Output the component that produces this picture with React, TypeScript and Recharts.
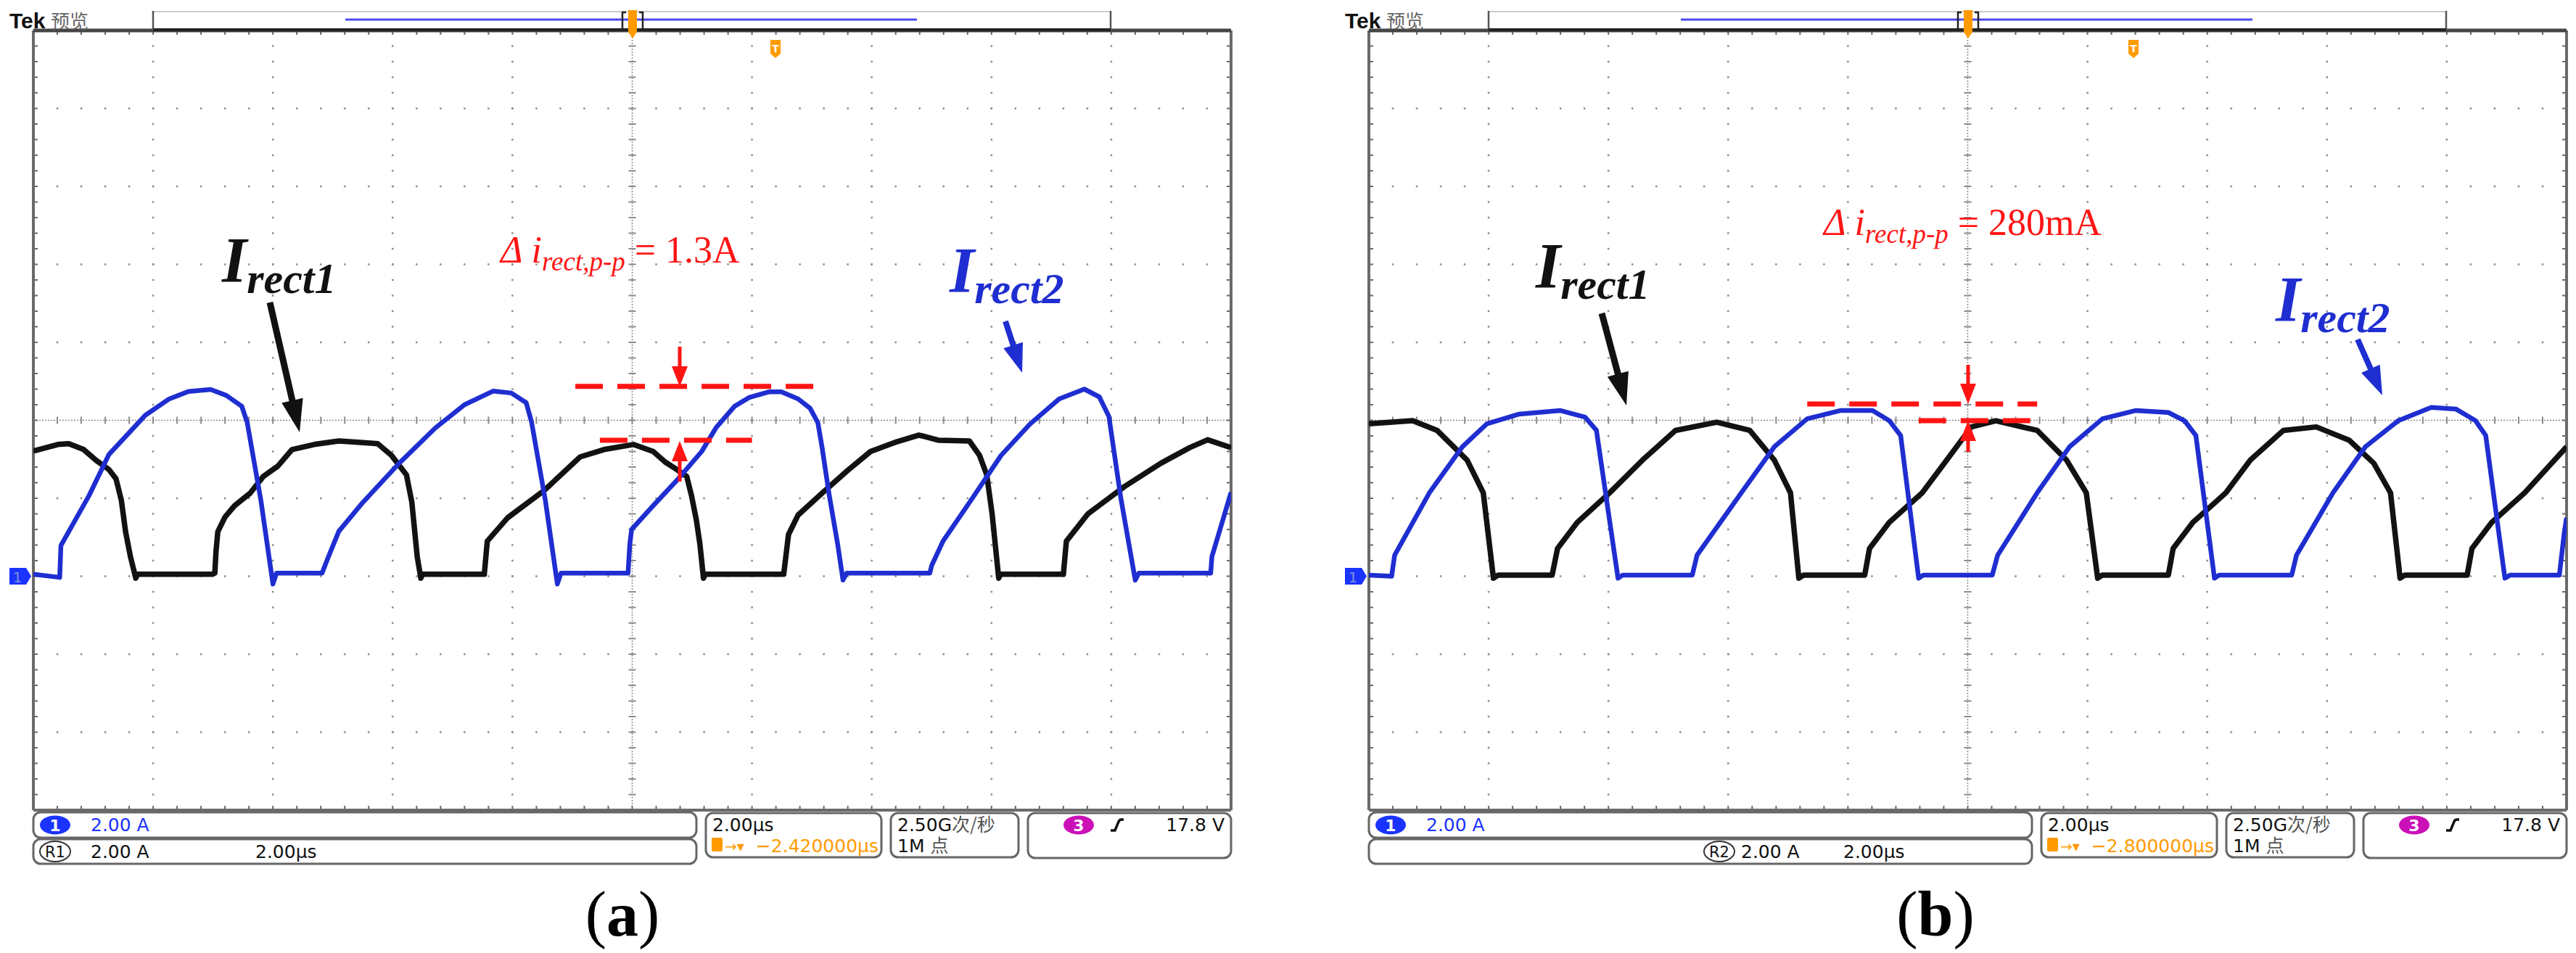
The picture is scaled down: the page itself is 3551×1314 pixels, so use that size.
import React from 'react';
import { LineChart, Line, XAxis, YAxis, ReferenceLine } from 'recharts';

// ---- screen geometry (px of the 3551x1314 page) ----
const W = 3551;
const H = 1314;
const GX = 46; // left edge of the graticule in panel (a)
const GY = 42;
const GW = 1651;
const GH = 1075;
const DX_B = 1841; // panel (b) is the same screen shifted right
const M = 12;

// ---- scope settings: 2.00 µs/div, 2.00 A/div, 10 x 10 div ----
const timeDomain = [0, 20]; // µs across the screen
const ampDomain = [-6, 14]; // A, ground marker 3 div above bottom
const majorTimes = [2, 4, 6, 8, 12, 14, 16, 18];
const majorAmps = [-4, -2, 0, 2, 6, 8, 10, 12];
const centerTime = 10;
const centerAmp = 4;

const PX_T = GW / 20; // px per µs
const PX_A = GH / 20; // px per A
const MINOR_X = GW / 50;
const MINOR_Y = GH / 50;

// ---- traces, [time µs, current A] ----
const blackA = [
  [0, 3.21], [0.41, 3.38], [0.59, 3.4], [0.84, 3.25], [1.05, 2.97], [1.26, 2.74], [1.38, 2.5],
  [1.47, 1.94], [1.54, 1.14], [1.62, 0.51], [1.71, -0.05], [1.74, 0.05], [2.99, 0.05],
  [3.03, 0.08], [3.05, 0.64], [3.08, 1.14], [3.2, 1.52], [3.36, 1.81], [3.62, 2.13], [3.84, 2.56],
  [4.08, 2.82], [4.32, 3.25], [4.69, 3.38], [5.1, 3.47], [5.5, 3.43], [5.75, 3.4], [5.98, 3.1],
  [6.23, 2.6], [6.32, 1.9], [6.41, 0.5], [6.47, -0.05], [6.5, 0.05], [7.53, 0.05], [7.58, 0.9],
  [7.92, 1.5], [8.53, 2.2], [9.13, 3.06], [9.53, 3.25], [10.02, 3.38], [10.35, 3.2], [10.55, 2.93],
  [10.74, 2.74], [10.91, 2.56], [10.99, 2.07], [11.07, 1.45], [11.13, 0.83], [11.19, -0.05],
  [11.22, 0.05], [12.53, 0.05], [12.61, 1.07], [12.77, 1.57], [13.17, 2.13], [13.58, 2.69],
  [13.98, 3.2], [14.38, 3.43], [14.79, 3.62], [15.11, 3.49], [15.63, 3.47], [15.8, 3.1],
  [15.92, 2.6], [16.01, 1.6], [16.12, -0.05], [16.15, 0.05], [17.2, 0.05], [17.25, 0.9],
  [17.61, 1.6], [18.22, 2.3], [18.83, 2.9], [19.31, 3.3], [19.61, 3.5], [20, 3.3],
];
const blueA = [
  [0, 0.05], [0.44, -0.03], [0.46, 0.79], [0.93, 2.07], [1.26, 3.12], [1.87, 4.13], [2.27, 4.55],
  [2.59, 4.74], [2.96, 4.79], [3.22, 4.64], [3.48, 4.36], [3.57, 3.95], [3.8, 1.94], [4.0, -0.2],
  [4.06, 0.08], [4.82, 0.08], [4.93, 0.51], [5.1, 1.15], [5.5, 1.89], [6.11, 2.9], [6.71, 3.8],
  [7.2, 4.4], [7.68, 4.75], [7.98, 4.7], [8.23, 4.45], [8.32, 3.95], [8.55, 1.94], [8.75, -0.2],
  [8.81, 0.08], [9.93, 0.08], [9.96, 0.83], [9.99, 1.2], [10.35, 1.81], [10.74, 2.45], [11.16, 3.2],
  [11.4, 3.81], [11.71, 4.36], [11.96, 4.59], [12.28, 4.73], [12.49, 4.73], [12.77, 4.55],
  [12.97, 4.31], [13.1, 3.94], [13.17, 3.31], [13.29, 2.08], [13.43, 0.83], [13.52, -0.1],
  [13.58, 0.08], [14.97, 0.08], [15.0, 0.27], [15.19, 0.9], [15.68, 2.0], [16.16, 3.1], [16.64, 3.9],
  [17.13, 4.55], [17.55, 4.8], [17.8, 4.6], [17.96, 4.1], [18.16, 2.0], [18.4, -0.1], [18.46, 0.08],
  [19.66, 0.08], [19.68, 0.5], [20, 2.15],
];
const blackB = [
  [0, 3.91], [0.73, 3.99], [1.14, 3.74], [1.64, 2.98], [1.91, 2.14], [2.08, -0.05], [2.16, 0.03],
  [3.06, 0.03], [3.15, 0.71], [3.48, 1.38], [4.02, 2.14], [4.57, 2.98], [5.12, 3.74], [5.81, 3.95],
  [6.36, 3.74], [6.77, 2.98], [7.04, 2.14], [7.18, -0.05], [7.26, 0.03], [8.28, 0.03], [8.36, 0.71],
  [8.69, 1.38], [9.24, 2.14], [9.65, 2.98], [10.06, 3.83], [10.47, 3.99], [11.16, 3.74],
  [11.65, 2.98], [11.98, 2.14], [12.17, -0.05], [12.25, 0.03], [13.35, 0.03], [13.43, 0.71],
  [13.76, 1.38], [14.31, 2.14], [14.72, 2.98], [15.27, 3.74], [15.82, 3.83], [16.37, 3.49],
  [16.78, 2.9], [17.06, 2.14], [17.22, -0.05], [17.3, 0.03], [18.34, 0.03], [18.42, 0.71],
  [18.75, 1.38], [19.3, 2.14], [19.8, 2.98], [20, 3.32],
];
const blueB = [
  [0, 0.03], [0.38, 0], [0.43, 0.54], [1.01, 2.14], [1.56, 3.32], [1.97, 3.91], [2.51, 4.16],
  [3.2, 4.25], [3.61, 4.08], [3.8, 3.74], [4.16, -0.05], [4.24, 0.03], [5.4, 0.03], [5.48, 0.54],
  [6.22, 2.14], [6.77, 3.32], [7.32, 4.04], [7.87, 4.25], [8.41, 4.25], [8.69, 3.99], [8.88, 3.61],
  [9.18, -0.05], [9.26, 0.03], [10.41, 0.03], [10.5, 0.54], [11.16, 2.14], [11.7, 3.32],
  [12.25, 4.04], [12.8, 4.25], [13.35, 4.2], [13.62, 3.99], [13.81, 3.61], [14.12, -0.05],
  [14.2, 0.03], [15.41, 0.03], [15.49, 0.54], [16.1, 2.14], [16.64, 3.32], [17.19, 3.99],
  [17.74, 4.33], [18.15, 4.29], [18.48, 3.99], [18.65, 3.61], [18.97, -0.05], [19.06, 0.03],
  [19.88, 0.03], [19.96, 1.1], [20, 1.5],
];

// ripple markers: [level A, from µs, to µs]
const rippleA = [[4.87, 9.05, 13.08], [3.49, 9.46, 12.0]];
const rippleB = [[4.42, 7.32, 11.16], [3.99, 9.18, 11.1]];

const rows = (pts: number[][]) => pts.map(([t, i]) => ({ t, i }));

const GRID = '#8c8c8c';
const BORDER = '#6a6a6a';
const BLUE = '#1f2ed0';
const RED = '#ff1414';
const ORANGE = '#ff9a00';

function Scope({ dx, black, blue, ripple }: { dx: number; black: number[][]; blue: number[][]; ripple: number[][] }) {
  const inT = 3 / PX_T;
  const inA = 3 / PX_A;
  return (
    <div style={{ position: 'absolute', left: dx + GX - M, top: GY - M }}>
      <LineChart width={GW + 2 * M} height={GH + 2 * M} margin={{ top: M, right: M, bottom: M, left: M }}>
        <XAxis type="number" dataKey="t" domain={timeDomain} hide allowDataOverflow />
        <YAxis type="number" domain={ampDomain} hide allowDataOverflow />
        {majorTimes.map((t) => (
          <ReferenceLine key={'v' + t} x={t} stroke={GRID} strokeWidth={2.5}
            strokeDasharray={`2.5 ${MINOR_Y - 2.5}`} strokeDashoffset={1.25} />
        ))}
        {majorAmps.map((a) => (
          <ReferenceLine key={'h' + a} y={a} stroke={GRID} strokeWidth={2.5}
            strokeDasharray={`2.5 ${MINOR_X - 2.5}`} strokeDashoffset={1.25} />
        ))}
        {/* centre cross with its small ticks */}
        <ReferenceLine x={centerTime} stroke={GRID} strokeWidth={1.5} strokeDasharray="2 2" />
        <ReferenceLine x={centerTime} stroke={GRID} strokeWidth={10} strokeDasharray={`2 ${MINOR_Y - 2}`} strokeDashoffset={1} />
        <ReferenceLine y={centerAmp} stroke={GRID} strokeWidth={1.5} strokeDasharray="2 2" />
        <ReferenceLine y={centerAmp} stroke={GRID} strokeWidth={10} strokeDasharray={`2 ${MINOR_X - 2}`} strokeDashoffset={1} />
        {/* frame + inward ticks */}
        <ReferenceLine x={timeDomain[0] + inT} stroke={BORDER} strokeWidth={6} strokeDasharray={`2 ${MINOR_Y - 2}`} strokeDashoffset={1} />
        <ReferenceLine x={timeDomain[1] - inT} stroke={BORDER} strokeWidth={6} strokeDasharray={`2 ${MINOR_Y - 2}`} strokeDashoffset={1} />
        <ReferenceLine y={ampDomain[0] + inA} stroke={BORDER} strokeWidth={6} strokeDasharray={`2 ${MINOR_X - 2}`} strokeDashoffset={1} />
        <ReferenceLine y={ampDomain[1] - inA} stroke={BORDER} strokeWidth={6} strokeDasharray={`2 ${MINOR_X - 2}`} strokeDashoffset={1} />
        <ReferenceLine x={timeDomain[0]} stroke={BORDER} strokeWidth={4} />
        <ReferenceLine x={timeDomain[1]} stroke={BORDER} strokeWidth={4} />
        <ReferenceLine y={ampDomain[0]} stroke={BORDER} strokeWidth={4} />
        <ReferenceLine y={ampDomain[1]} stroke="#444" strokeWidth={5} />

        <Line data={rows(black)} dataKey="i" type="linear" dot={false} stroke="#121212" strokeWidth={7.5}
          strokeLinejoin="round" isAnimationActive={false} />
        <Line data={rows(blue)} dataKey="i" type="linear" dot={false} stroke={BLUE} strokeWidth={6.5}
          strokeLinejoin="round" isAnimationActive={false} />

        {ripple.map(([lvl, t0, t1], k) => (
          <ReferenceLine key={'r' + k} segment={[{ x: t0, y: lvl }, { x: t1, y: lvl }]} stroke={RED}
            strokeWidth={7} strokeDasharray="38 20" />
        ))}
      </LineChart>
    </div>
  );
}

function arrow(x1: number, y1: number, x2: number, y2: number, hl: number, hw: number, sw: number) {
  const L = Math.hypot(x2 - x1, y2 - y1);
  const ux = (x2 - x1) / L;
  const uy = (y2 - y1) / L;
  const nx = -uy;
  const ny = ux;
  const bx = x2 - ux * hl;
  const by = y2 - uy * hl;
  const p = [
    [x1 + nx * sw / 2, y1 + ny * sw / 2], [bx + nx * sw / 2, by + ny * sw / 2], [bx + nx * hw / 2, by + ny * hw / 2],
    [x2, y2], [bx - nx * hw / 2, by - ny * hw / 2], [bx - nx * sw / 2, by - ny * sw / 2], [x1 - nx * sw / 2, y1 - ny * sw / 2],
  ];
  return p.map((q) => q.join(',')).join(' ');
}

const UI = 'DejaVu Sans, Verdana, sans-serif';
const SERIF = 'Liberation Serif, Times New Roman, serif';

function Chrome({ dx, refTag, refX, trig, trigT }: { dx: number; refTag: string; refX: number[]; trig: string; trigT: number }) {
  return (
    <g transform={`translate(${dx},0)`}>
      <text x={13} y={39} fontFamily="Liberation Sans, Arial, sans-serif" fontWeight="bold" fontSize={30} fill="#111">Tek</text>
      <text x={70} y={39} fontFamily="Noto Sans CJK SC" fontSize={26} fill="#666">预览</text>
      <rect x={211} y={16} width={1320} height={26} fill="#fff" stroke="#ccc" strokeWidth={2} />
      <line x1={211} y1={15} x2={211} y2={43} stroke="#555" strokeWidth={2.5} />
      <line x1={1531} y1={15} x2={1531} y2={43} stroke="#555" strokeWidth={2.5} />
      <line x1={211} y1={41} x2={1531} y2={41} stroke="#222" strokeWidth={4} />
      <line x1={476} y1={27} x2={1264} y2={27} stroke="#4b4bf0" strokeWidth={3} />
      <path d="M863,17 H858 V41 H863 M881,17 H886 V41 H881" fill="none" stroke="#222" strokeWidth={2.5} />
      <path d="M866,14 H878 V44 L872,53 L866,44 Z" fill={ORANGE} />
      <path d={`M${trigT - 7},55 H${trigT + 7} V74 L${trigT},80 L${trigT - 7},74 Z`} fill={ORANGE} />
      <text x={trigT} y={72} textAnchor="middle" fontFamily={UI} fontWeight="bold" fontSize={14} fill="#fff">T</text>

      {/* ground marker of channel 1 */}
      <path d="M13,783 H36 L43,794.5 L36,806 H13 Z" fill="#1a33ff" />
      <text x={24} y={803} textAnchor="middle" fontFamily={UI} fontSize={20} fill="#8090d8">1</text>

      {/* status bar */}
      <rect x={46} y={1120} width={914} height={35} rx={10} fill="#fff" stroke="#666" strokeWidth={3} />
      <rect x={46} y={1157} width={914} height={34} rx={10} fill="#fff" stroke="#666" strokeWidth={3} />
      <ellipse cx={76} cy={1137.5} rx={21} ry={13} fill="#1a33ff" />
      <text x={76} y={1146} textAnchor="middle" fontFamily={UI} fontWeight="bold" fontSize={22} fill="#fff">1</text>
      <text x={125} y={1146} fontFamily={UI} fontSize={25} fill="#1a33ff">2.00 A</text>
      <ellipse cx={refX[0]} cy={1174} rx={21} ry={14} fill="#fff" stroke="#333" strokeWidth={2} />
      <text x={refX[0]} y={1182} textAnchor="middle" fontFamily={UI} fontSize={21} fill="#111">{refTag}</text>
      <text x={refX[1]} y={1183} fontFamily={UI} fontSize={25} fill="#111">2.00 A</text>
      <text x={refX[2]} y={1183} fontFamily={UI} fontSize={25} fill="#111">2.00µs</text>

      <rect x={973} y={1121} width={242} height={61} rx={10} fill="#fff" stroke="#666" strokeWidth={3} />
      <text x={982} y={1146} fontFamily={UI} fontSize={25} fill="#111">2.00µs</text>
      <rect x={981} y={1155} width={15} height={19} rx={2} fill={ORANGE} />
      <text x={999} y={1174} fontFamily={UI} fontSize={20} fill={ORANGE}>→▾</text>
      <text x={1211} y={1175} textAnchor="end" fontFamily={UI} fontSize={25} fill={ORANGE}>{trig}</text>

      <rect x={1228} y={1121} width={176} height={61} rx={10} fill="#fff" stroke="#666" strokeWidth={3} />
      <text x={1237} y={1146} fontFamily={UI} fontSize={25} fill="#111">2.50G<tspan fontFamily="Noto Sans CJK SC" fill="#555">次/秒</tspan></text>
      <text x={1237} y={1175} fontFamily={UI} fontSize={25} fill="#111">1M <tspan fontFamily="Noto Sans CJK SC" fill="#555">点</tspan></text>

      <rect x={1417} y={1121} width={280} height={62} rx={10} fill="#fff" stroke="#666" strokeWidth={3} />
      <ellipse cx={1487} cy={1137.5} rx={21} ry={13} fill="#cc10b8" />
      <text x={1487} y={1146} textAnchor="middle" fontFamily={UI} fontWeight="bold" fontSize={22} fill="#fff">3</text>
      <path d="M1531,1145 H1537 L1542,1133 Q1543,1130 1546,1130 H1549" fill="none" stroke="#111" strokeWidth={3.5} />
      <text x={1688} y={1146} textAnchor="end" fontFamily={UI} fontSize={25} fill="#111">17.8 V</text>
    </g>
  );
}

function Label({ x, y, sub, color }: { x: number; y: number; sub: string; color: string }) {
  return (
    <text x={x} y={y} fontFamily={SERIF} fontStyle="italic" fontWeight="bold" fontSize={88} fill={color}>
      I<tspan fontSize={60} dy={16}>{sub}</tspan>
    </text>
  );
}

function Delta({ x, y, val }: { x: number; y: number; val: string }) {
  return (
    <text x={x} y={y} fontFamily={SERIF} fontSize={52} fill={RED}>
      <tspan fontStyle="italic">Δ i</tspan>
      <tspan fontStyle="italic" fontSize={37} dy={11}>rect,p-p</tspan>
      <tspan dy={-11}> = {val}</tspan>
    </text>
  );
}

export default function App() {
  return (
    <div style={{ position: 'absolute', left: 0, top: 0, width: W, height: H, background: '#fff', overflow: 'hidden' }}>
      <Scope dx={0} black={blackA} blue={blueA} ripple={rippleA} />
      <Scope dx={DX_B} black={blackB} blue={blueB} ripple={rippleB} />
      <svg width={W} height={H} style={{ position: 'absolute', left: 0, top: 0, pointerEvents: 'none' }}>
        <Chrome dx={0} refTag="R1" refX={[76, 125, 352]} trig="−2.420000µs" trigT={1069} />
        <Chrome dx={DX_B} refTag="R2" refX={[529, 559, 700]} trig="−2.800000µs" trigT={1100} />

        {/* panel (a) annotations */}
        <Label x={306} y={388} sub="rect1" color="#111" />
        <polygon points={arrow(372, 417, 413, 596, 45, 30, 9)} fill="#111" />
        <Label x={1309} y={402} sub="rect2" color={BLUE} />
        <polygon points={arrow(1386, 443, 1409, 514, 40, 28, 8)} fill={BLUE} />
        <Delta x={690} y={362} val="1.3A" />
        <polygon points={arrow(937, 478, 937, 533, 28, 22, 5)} fill={RED} />
        <polygon points={arrow(937, 664, 937, 608, 28, 22, 5)} fill={RED} />

        {/* panel (b) annotations */}
        <Label x={2117} y={396} sub="rect1" color="#111" />
        <polygon points={arrow(2208, 432, 2242, 559, 45, 30, 9)} fill="#111" />
        <Label x={3137} y={442} sub="rect2" color={BLUE} />
        <polygon points={arrow(3250, 468, 3284, 545, 40, 28, 8)} fill={BLUE} />
        <Delta x={2514} y={324} val="280mA" />
        <polygon points={arrow(2713, 503, 2713, 557, 28, 22, 5)} fill={RED} />
        <polygon points={arrow(2713, 623, 2713, 580, 28, 22, 5)} fill={RED} />

        <text x={858} y={1290} textAnchor="middle" fontFamily={SERIF} fontSize={88} fill="#000">(<tspan fontWeight="bold">a</tspan>)</text>
        <text x={2668} y={1290} textAnchor="middle" fontFamily={SERIF} fontSize={88} fill="#000">(<tspan fontWeight="bold">b</tspan>)</text>
      </svg>
    </div>
  );
}
